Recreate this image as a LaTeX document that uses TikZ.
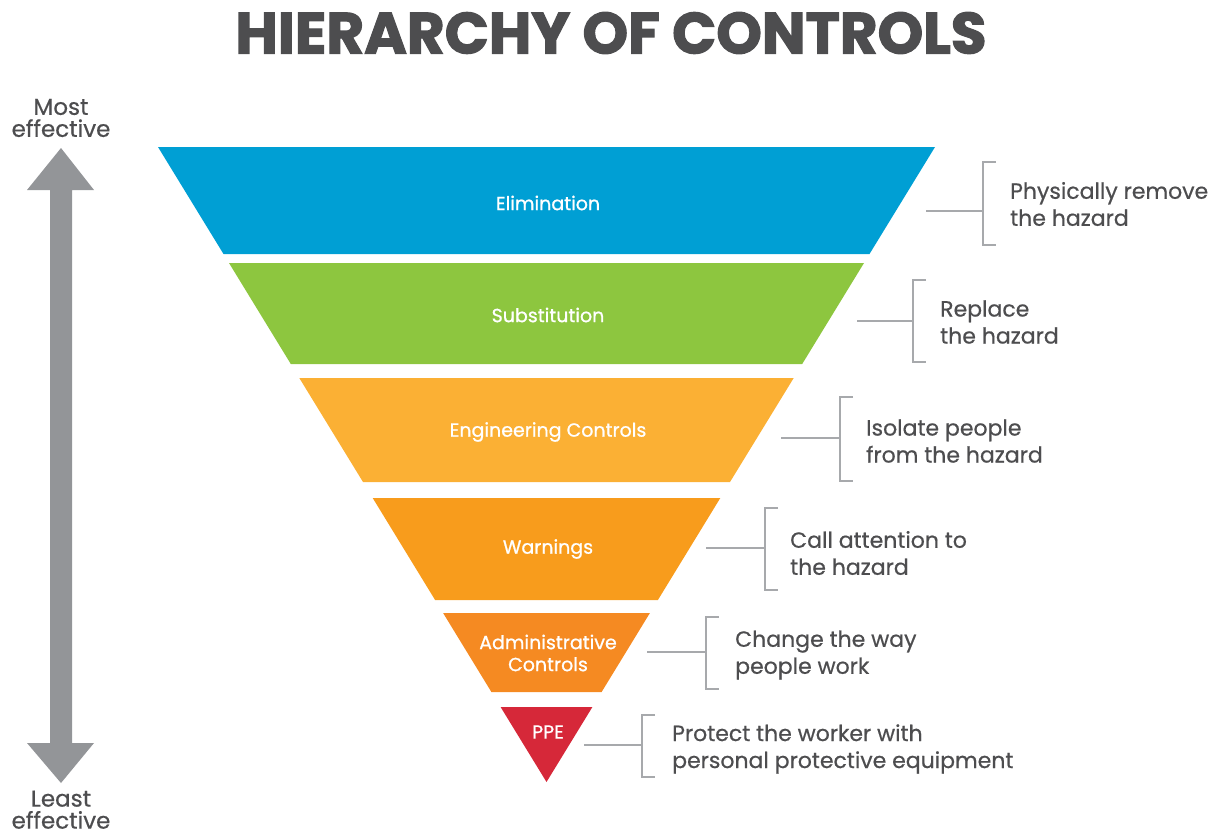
\documentclass[tikz,border=0pt]{standalone}
\usepackage{fontspec}
\setmainfont{Poppins}[Ligatures=NoCommon]
\newfontfamily\bodyfont{Poppins}[Ligatures=NoCommon,FakeBold=0.6]
\newfontfamily\labelfont{Poppins}[Ligatures=NoCommon,FakeBold=0.9]
\newfontfamily\titlefont{Poppins}[BoldFeatures={FakeBold=2}]
\usetikzlibrary{calc}
\definecolor{elimc}{HTML}{009FD4}
\definecolor{substc}{HTML}{8DC63F}
\definecolor{engc}{HTML}{FBB034}
\definecolor{warnc}{HTML}{F89C1C}
\definecolor{admc}{HTML}{F58A22}
\definecolor{ppec}{HTML}{D62839}
\definecolor{txtgray}{HTML}{4D4D4F}
\definecolor{linegray}{HTML}{A7A9AC}
\definecolor{arrowgray}{HTML}{939598}
\begin{document}
\begin{tikzpicture}[x=1pt,y=-1pt,
  layerlabel/.style={text=white,font=\labelfont\fontsize{19}{22}\selectfont,align=center,inner sep=0pt},
  desc/.style={text=txtgray,font=\bodyfont\fontsize{22}{27}\selectfont,align=left,anchor=west,inner sep=0pt},
  sidelabel/.style={text=txtgray,font=\bodyfont\fontsize{23}{22}\selectfont,align=center,inner sep=0pt},
  bracketline/.style={draw=linegray,line width=1.5pt}]
\useasboundingbox (0,0) rectangle (1222,835);

% title
\node[text=txtgray,font=\titlefont\fontsize{58}{62}\selectfont\bfseries] (title) at (611,33) {HIERARCHY OF CONTROLS};

% effectiveness arrow
\fill[arrowgray] (61,148) -- (94,190) -- (72,190) -- (72,743) -- (94,743) -- (61,783)
  -- (27,743) -- (50,743) -- (50,190) -- (27,190) -- cycle;
\node[sidelabel] (most) at (61,118) {Most\\effective};
\node[sidelabel, anchor=south] (least) at (61,829) {Least\\effective};

% funnel layers
\fill[elimc]  (158,147) -- (935,147) -- (869.5,254) -- (223.5,254) -- cycle;
\fill[substc] (229,263) -- (864,263) -- (802.2,364) -- (290.8,364) -- cycle;
\fill[engc]   (299.3,378) -- (793.7,378) -- (730,482) -- (363,482) -- cycle;
\fill[warnc]  (372.7,498) -- (720.3,498) -- (657.9,600) -- (435.1,600) -- cycle;
\fill[admc]   (443.1,613) -- (649.9,613) -- (601.6,692) -- (491.4,692) -- cycle;
\fill[ppec]   (500.6,707) -- (592.4,707) -- (546.5,782) -- cycle;

\node[layerlabel] (elim) at (548,203) {Elimination};
\node[layerlabel] (subst) at (548,315) {Substitution};
\node[layerlabel] (eng) at (548,432) {Engineering Controls};
\node[layerlabel] (warn) at (548,549) {Warnings};
\node[layerlabel] (adm) at (548,653) {Administrative\\Controls};
\node[layerlabel] (ppe) at (548,732) {PPE};

% connector coordinates
\coordinate (s1) at (926,211); \coordinate (b1) at (983,211);
\coordinate (s2) at (857,321); \coordinate (b2) at (913,321);
\coordinate (s3) at (781,438); \coordinate (b3) at (840,438);
\coordinate (s4) at (706,548); \coordinate (b4) at (765,548);
\coordinate (s5) at (647,652); \coordinate (b5) at (706,652);
\coordinate (s6) at (584,745); \coordinate (b6) at (642,745);

\draw[bracketline] (s1) -- (b1);
\draw[bracketline] ($(b1)+(13,-49)$) -- ($(b1)+(0,-49)$) -- ($(b1)+(0,34)$) -- ($(b1)+(13,34)$);
\draw[bracketline] (s2) -- (b2);
\draw[bracketline] ($(b2)+(13,-41)$) -- ($(b2)+(0,-41)$) -- ($(b2)+(0,41)$) -- ($(b2)+(13,41)$);
\draw[bracketline] (s3) -- (b3);
\draw[bracketline] ($(b3)+(13,-41)$) -- ($(b3)+(0,-41)$) -- ($(b3)+(0,43)$) -- ($(b3)+(13,43)$);
\draw[bracketline] (s4) -- (b4);
\draw[bracketline] ($(b4)+(13,-40)$) -- ($(b4)+(0,-40)$) -- ($(b4)+(0,42)$) -- ($(b4)+(13,42)$);
\draw[bracketline] (s5) -- (b5);
\draw[bracketline] ($(b5)+(13,-35)$) -- ($(b5)+(0,-35)$) -- ($(b5)+(0,37)$) -- ($(b5)+(13,37)$);
\draw[bracketline] (s6) -- (b6);
\draw[bracketline] ($(b6)+(13,-30)$) -- ($(b6)+(0,-30)$) -- ($(b6)+(0,32)$) -- ($(b6)+(13,32)$);

% descriptions
\node[desc] (d1) at (1010,204) {Physically remove\\the hazard};
\node[desc] (d2) at (940,322) {Replace\\the hazard};
\node[desc] (d3) at (866,441) {Isolate people\\from the hazard};
\node[desc] (d4) at (790,553) {Call attention to\\the hazard};
\node[desc] (d5) at (735,655) {Change the way\\people work};
\node[desc] (d6) at (672,749) {Protect the worker with\\personal protective equipment};
\end{tikzpicture}
\end{document}
